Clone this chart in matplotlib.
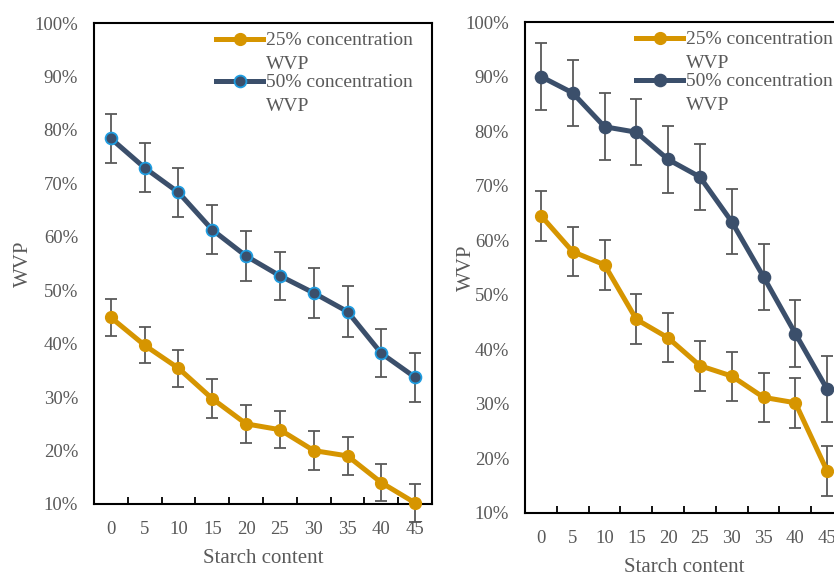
import numpy as np
import matplotlib.pyplot as plt
from matplotlib.ticker import PercentFormatter

plt.rcParams['font.family'] = ['Liberation Serif', 'DejaVu Serif']

# Données
starch = ['0', '5', '10', '15', '20', '25', '30', '35', '40', '45']
yticks = [10, 20, 30, 40, 50, 60, 70, 80, 90, 100]
labels = ['25% concentration\nWVP', '50% concentration\nWVP']

# panneau gauche
left_25 = [44.9, 39.7, 35.4, 29.7, 25.0, 23.9, 20.0, 19.0, 14.0, 10.2]
left_25_err = [3.4, 3.4, 3.5, 3.6, 3.6, 3.5, 3.6, 3.5, 3.5, 3.5]
left_50 = [78.4, 72.9, 68.3, 61.3, 56.4, 52.7, 49.5, 46.0, 38.2, 33.7]
left_50_err = [4.6, 4.6, 4.6, 4.6, 4.7, 4.5, 4.7, 4.7, 4.5, 4.6]

# panneau droit
right_25 = [64.5, 57.9, 55.5, 45.5, 42.1, 37.0, 35.1, 31.2, 30.2, 17.7]
right_25_err = [4.6, 4.5, 4.6, 4.6, 4.5, 4.6, 4.5, 4.5, 4.6, 4.6]
right_50 = [90.0, 87.0, 80.8, 79.8, 74.8, 71.6, 63.4, 53.3, 42.9, 32.7]
right_50_err = [6.1, 6.1, 6.1, 6.0, 6.1, 6.1, 6.0, 6.0, 6.1, 6.1]

gold = '#D69500'
navy = '#3B4F6B'
cyan = '#1E9CE0'
grey = '#595959'

fig = plt.figure(figsize=(8.34, 5.76), dpi=100)
ax1 = fig.add_axes([0.1127, 0.125, 0.4053, 0.835])
ax2 = fig.add_axes([0.6295, 0.1094, 0.3813, 0.8524])


def draw(ax, s25, e25, s50, e50, edge50, ylab_x, leg_x):
    x = np.arange(len(starch))
    for s, e in [(s25, e25), (s50, e50)]:
        ax.errorbar(x, s, yerr=e, fmt='none', ecolor=grey, elinewidth=1.3,
                    capsize=4, capthick=1.3, zorder=2, clip_on=False)
    ax.plot(x, s25, color=gold, lw=3.6, marker='o', ms=8.5, mfc=gold, mec=gold,
            label=labels[0], zorder=3, clip_on=False)
    ax.plot(x, s50, color=navy, lw=3.6, marker='o', ms=8.5, mfc=navy, mec=edge50,
            mew=1.3, label=labels[1], zorder=3, clip_on=False)
    ax.set_xlim(-0.5, 9.5)
    ax.set_ylim(10, 100)
    ax.set_xticks(x)
    ax.set_xticklabels(starch)
    ax.set_xticks(np.arange(-0.5, 9.5, 1), minor=True)
    ax.tick_params(axis='x', which='major', length=0, pad=12, labelsize=13.5, labelcolor=grey)
    ax.tick_params(axis='x', which='minor', direction='in', length=5, width=1.3, color='black')
    ax.set_yticks(yticks)
    ax.yaxis.set_major_formatter(PercentFormatter(decimals=0))
    ax.tick_params(axis='y', length=0, pad=11.5, labelsize=13.5, labelcolor=grey)
    for sp in ax.spines.values():
        sp.set_linewidth(1.5)
    ax.set_xlabel('Starch content', fontsize=15, color=grey, labelpad=8)
    ax.set_ylabel('WVP', fontsize=15, color=grey)
    ax.yaxis.set_label_coords(ylab_x, 0.5)
    leg = ax.legend(loc='upper left', bbox_to_anchor=(leg_x, 0.994), frameon=False,
                    fontsize=14, handlelength=2.4, handletextpad=0.15,
                    labelspacing=0.05, borderaxespad=0.2, borderpad=0.1)
    for t in leg.get_texts():
        t.set_color(grey)
        t.set_linespacing(1.55)
    # poignée alignée sur la première ligne du libellé
    for col in leg._legend_handle_box.get_children():
        for item in col.get_children():
            item.align = 'top'


draw(ax1, left_25, left_25_err, left_50, left_50_err, cyan, -0.18, 0.345)
draw(ax2, right_25, right_25_err, right_50, right_50_err, navy, -0.154, 0.332)

fig.savefig('out.png', dpi=100)
